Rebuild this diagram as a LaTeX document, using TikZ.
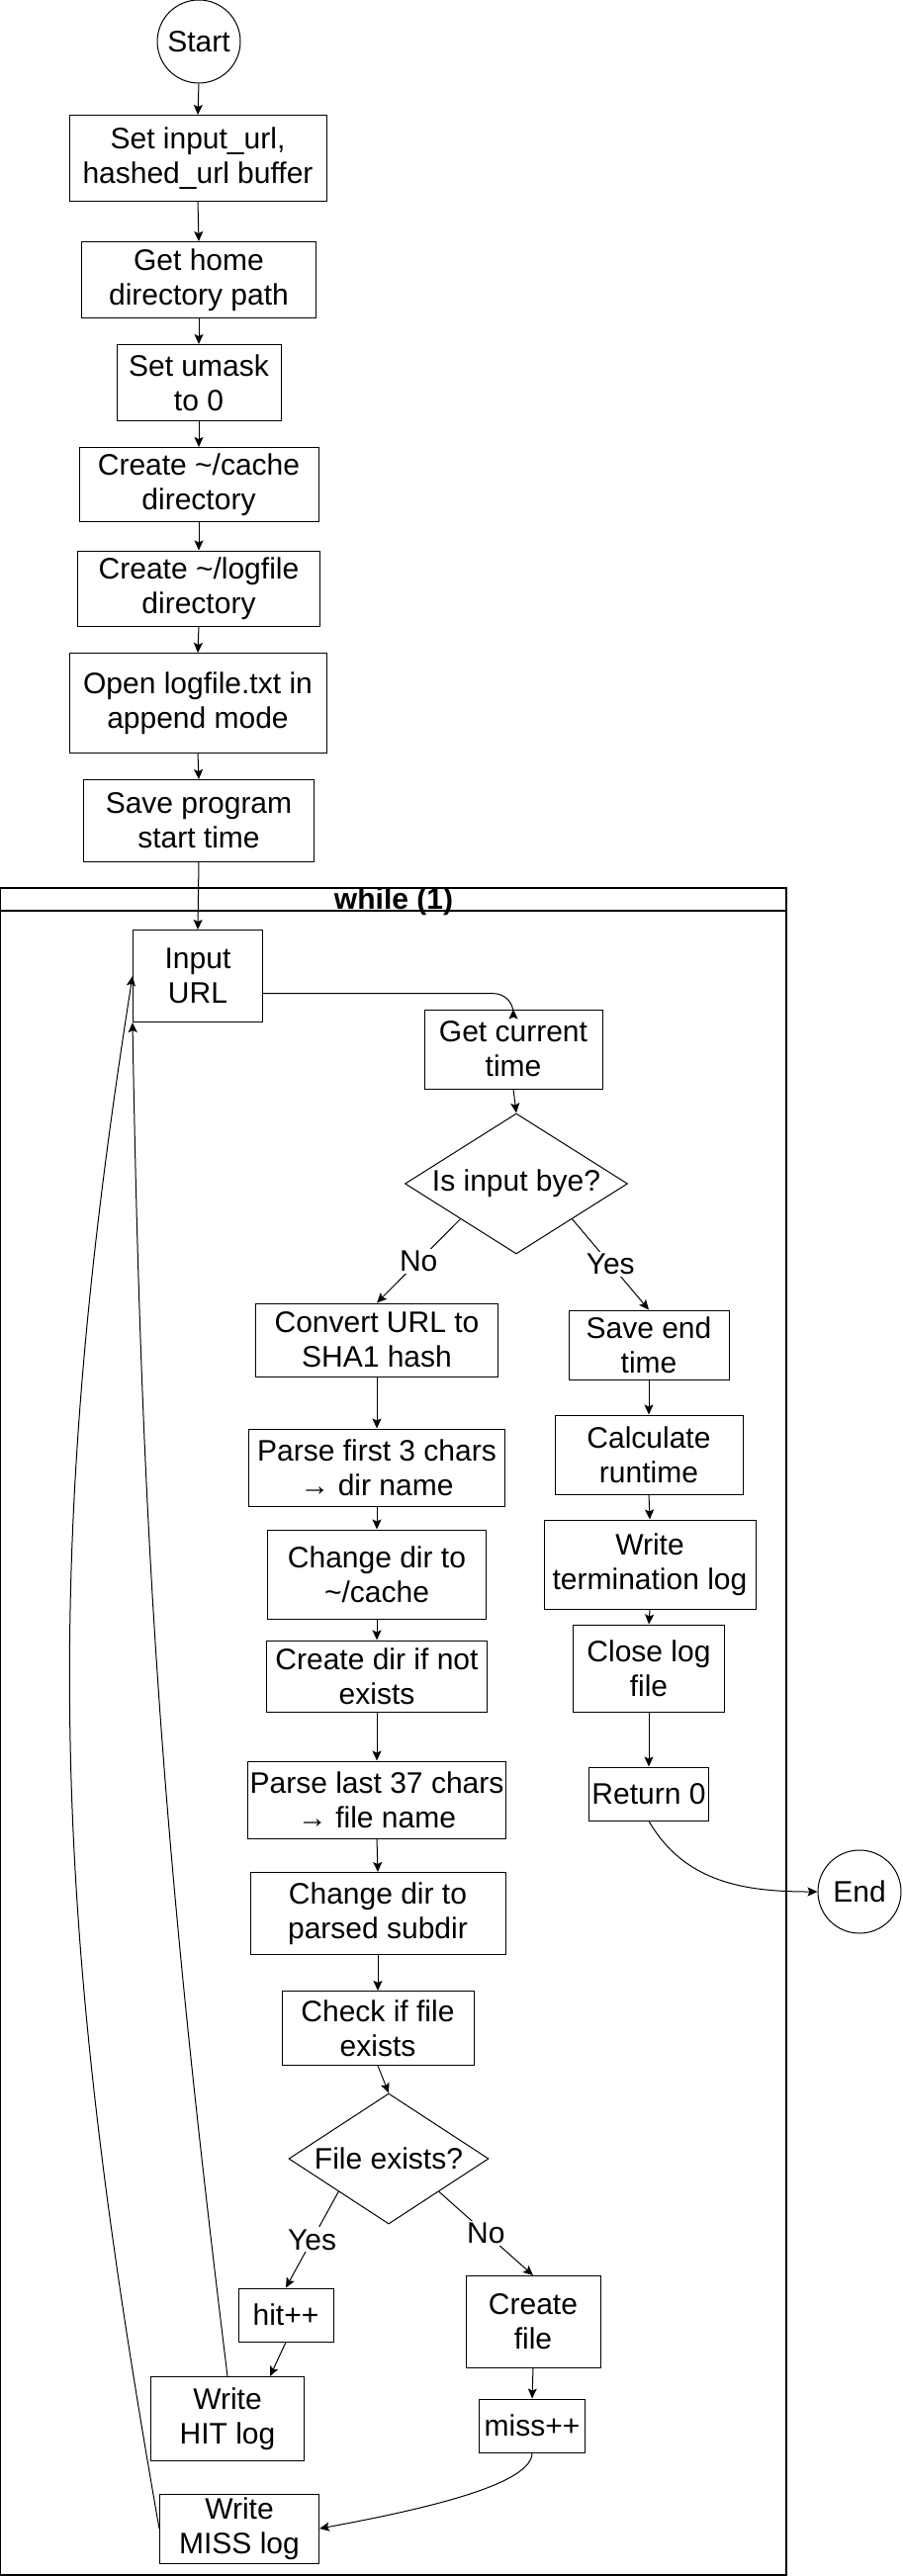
\documentclass[tikz,border=0pt]{standalone}
\usepackage{fontspec}
\setmainfont{Liberation Sans}
\usetikzlibrary{arrows.meta,shapes.geometric}

\tikzset{
  box/.style={draw, line width=0.5pt, align=center, inner sep=1pt},
  sz/.style 2 args={minimum width=#1*0.5pt, minimum height=#2*0.5pt},
  dec/.style={draw, diamond, line width=0.5pt, aspect=1.6, inner sep=0pt, align=center},
  term/.style={draw, circle, line width=0.5pt, minimum size=84*0.5pt, inner sep=0pt},
  lbl/.style={fill=white, inner sep=1pt},
  arr/.style={-{Stealth[length=5pt,width=4.5pt,inset=1pt]}, line width=0.5pt},
}

\begin{document}
\begin{tikzpicture}[x=0.5pt, y=-0.5pt, every node/.style={font=\fontsize{15}{17.5}\selectfont}]
\useasboundingbox (0,0) rectangle (913,2605);

% set-up before the loop
\node[term] (start) at (201,42) {Start};
\node[box, sz={260}{87}] (setbuf) at (200,160) {Set input\_url,\\hashed\_url buffer};
\node[box, sz={237}{77}] (gethome) at (201,283) {Get home\\directory path};
\node[box, sz={166}{77}] (umask) at (201,387) {Set umask\\to 0};
\node[box, sz={242}{75}] (mkcache) at (201,490) {Create \textasciitilde/cache\\directory};
\node[box, sz={245}{76}] (mklog) at (201,595) {Create \textasciitilde/logfile\\directory};
\node[box, sz={260}{101}] (openlog) at (200,711) {Open logfile.txt in\\append mode};
\node[box, sz={233}{83}] (savestart) at (201,830) {Save program\\start time};

% while (1) container
\draw[line width=0.6pt] (0,898) rectangle (795,2604);
\draw[line width=0.6pt] (0,921) -- (795,921);
\node[inner sep=0pt, font=\fontsize{15}{17.5}\selectfont\bfseries] (loop) at (398,912) {while (1)};

\node[box, sz={131}{93}] (url) at (200,987) {Input\\URL};
\node[box, sz={180}{80}] (gettime) at (519,1061) {Get current\\time};
\node[dec, sz={225}{142}] (isbye) at (522,1197) {Is input bye?};

% "No" branch
\node[box, sz={245}{74}] (tosha) at (381,1355) {Convert URL to\\SHA1 hash};
\node[box, sz={259}{78}] (parse3) at (381,1484) {Parse first 3 chars\\→ dir name};
\node[box, sz={221}{90}] (cdcache) at (381,1592) {Change dir to\\\textasciitilde/cache};
\node[box, sz={223}{72}] (mkdir) at (381,1695) {Create dir if not\\exists};
\node[box, sz={259}{78}] (parse37) at (381,1820) {Parse last 37 chars\\→ file name};
\node[box, sz={258}{83}] (cdsub) at (382,1935) {Change dir to\\parsed subdir};
\node[box, sz={194}{75}] (check) at (382,2051) {Check if file\\exists};
\node[dec, sz={202}{132}] (exists) at (393,2183) {File exists?};
\node[box, sz={96}{54}] (hit) at (289,2341) {hit++};
\node[box, sz={136}{93}] (mkfile) at (539,2348) {Create\\file};
\node[box, sz={155}{85}] (hitlog) at (230,2446) {Write\\HIT log};
\node[box, sz={107}{54}] (miss) at (538,2453) {miss++};
\node[box, sz={161}{70}] (misslog) at (242,2557) {Write\\MISS log};

% "Yes" branch
\node[box, sz={162}{70}] (saveend) at (656,1360) {Save end\\time};
\node[box, sz={190}{80}] (calcrun) at (656,1471) {Calculate\\runtime};
\node[box, sz={214}{90}] (termlog) at (657,1582) {Write\\termination log};
\node[box, sz={153}{88}] (closelog) at (656,1687) {Close log\\file};
\node[box, sz={121}{54}] (ret) at (656,1814) {Return 0};
\node[term] (finish) at (869,1913) {End};

% connectors
\foreach \a/\b in {start/setbuf, setbuf/gethome, gethome/umask, umask/mkcache,
    mkcache/mklog, mklog/openlog, openlog/savestart, savestart/url,
    gettime/isbye, tosha/parse3, parse3/cdcache, cdcache/mkdir, mkdir/parse37,
    parse37/cdsub, cdsub/check, check/exists, mkfile/miss,
    saveend/calcrun, calcrun/termlog, termlog/closelog, closelog/ret}
  \draw[arr] (\a.south) -- (\b.north);

\draw[arr, rounded corners=10pt] (url.-15) -| (gettime.north);
\draw[arr] (isbye.south west) -- node[lbl] {No} (tosha.north);
\draw[arr] (isbye.south east) -- node[lbl] {Yes} (saveend.north);
\draw[arr] (exists.south west) -- node[lbl] {Yes} (hit.north);
\draw[arr] (exists.south east) -- node[lbl] {No} (mkfile.north);
\draw[arr] (hit.south) -- (hitlog.45);
\draw[arr] (miss.south) .. controls +(0,30) and +(120,-22) .. (misslog.east);
\draw[arr] (ret.south) to[out=-60, in=180] (finish.west);

% back to the top of the loop
\draw[arr] (hitlog.north) to[out=97, in=-89] (url.south west);
\draw[arr] (misslog.west) to[out=100, in=-99] (url.west);
\end{tikzpicture}
\end{document}
